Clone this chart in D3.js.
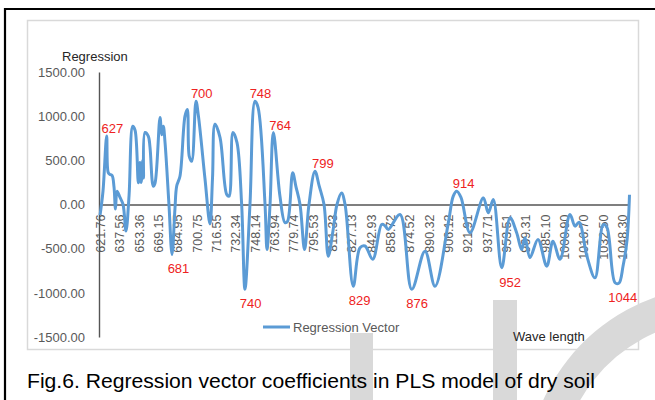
<!DOCTYPE html>
<html>
<head>
<meta charset="utf-8">
<script src="https://cdn.jsdelivr.net/npm/d3@7"></script>
<style>
  body { margin: 0; background: #fff; }
  svg { display: block; }
</style>
</head>
<body>
<svg id="drawing_region"></svg>
<script>
// wavelength (nm) of the points
const wavelengths = [
  621.8, 624.2, 627.2, 628.5, 629.9, 631.6, 633.2, 634.4, 635.7, 638.1,
  640.6, 643.0, 645.5, 648.5, 650.4, 653.1, 654.4, 655.4, 656.7, 657.3,
  658.5, 661.2, 662.6, 665.3, 666.7, 670.8, 672.2, 673.5, 674.9, 678.1,
  680.6, 683.0, 684.4, 687.1, 691.2, 693.1, 694.7, 696.7, 700.2, 702.2,
  707.6, 711.6, 713.7, 715.7, 719.8, 725.3, 727.2, 730.4, 733.7, 737.5,
  740.2, 744.3, 748.4, 750.9, 756.6, 758.2, 760.7, 763.4, 768.8, 772.9,
  775.0, 779.2, 781.9, 785.2, 788.9, 792.5, 797.4, 800.9, 804.8, 808.3,
  812.1, 815.4, 819.1, 822.0, 828.7, 834.2, 838.3, 844.6, 851.9, 854.6,
  857.3, 866.9, 876.5, 887.3, 895.5, 906.4, 910.4, 913.2, 916.7, 924.1,
  935.0, 939.0, 943.1, 950.0, 956.8, 962.2, 966.3, 969.0, 973.1, 979.6,
  986.8, 991.9, 997.6, 1005.8, 1009.9, 1013.2, 1019.7, 1026.2, 1033.0, 1036.0,
  1042.6, 1045.8, 1049.1, 1052.4, 1054.4
];
// regression vector coefficients at those wavelengths
const coefficients = [
  -120, 150, 775, 360, 340, 330, 200, -50, 150, 80,
  0, -300, 100, 885, 840, 245, 475, 250, 500, 300,
  815, 775, 650, 207, 240, 985, 790, 885, 700, 0,
  -565, -50, 207, 320, 1000, 1075, 546, 490, 1168, 1000,
  283, -220, 300, 910, 760, 113, 94, 815, 700, 0,
  -960, 0, 1168, 1100, 0, -510, 0, 815, 94, -205,
  -190, 360, 200, 0, -510, 0, 377, 207, 0, -585,
  -300, 0, 130, 0, -925, -490, -470, -620, -226, -240,
  -283, -113, -960, -528, -925, -205, 94, 150, 80, -320,
  75, -94, 57, -716, -150, -320, -510, -375, -600, -395,
  -698, -415, -620, -113, -245, -200, -590, -830, -226, -260,
  -886, -890, -700, -400, 110
];
const tickLabels = [
  "621.76", "637.56", "653.36", "669.15", "684.95", "700.75", "716.55",
  "732.34", "748.14", "763.94", "779.74", "795.53", "811.33", "827.13",
  "842.93", "858.72", "874.52", "890.32", "906.12", "921.91", "937.71",
  "953.51", "969.31", "985.10", "1000.90", "1016.70", "1032.50", "1048.30"
];
const yTicks = [-1500, -1000, -500, 0, 500, 1000, 1500];
const peakLabels = [627, 700, 748, 764, 799, 914];
const troughLabels = [681, 740, 829, 876, 952, 1044];

const data = wavelengths.map((w, i) => ({ wl: w, value: coefficients[i] }));
const font = 'Liberation Sans, Arial, sans-serif';

const svg = d3.select('#drawing_region')
    .attr('width', 655)
    .attr('height', 400);

svg.append('rect')
    .attr('width', 655).attr('height', 400)
    .attr('fill', '#fff');

// page frame
svg.append('path')
    .attr('d', 'M5,400 V9 H655')
    .attr('fill', 'none')
    .attr('stroke', '#000')
    .attr('stroke-width', 2.2);

// chart area
svg.append('rect')
    .attr('x', 27.5).attr('y', 20.5)
    .attr('width', 611).attr('height', 329)
    .attr('fill', '#fff')
    .attr('stroke', '#d9d9d9')
    .attr('stroke-width', 1.5);

// journal watermark (behind the chart content)
const mark = svg.append('g').attr('fill', '#d9d9d9');
mark.append('rect').attr('x', 350).attr('y', 333).attr('width', 23).attr('height', 67);
mark.append('rect').attr('x', 493).attr('y', 300).attr('width', 24).attr('height', 100);
mark.append('path')
    .attr('transform', 'translate(720,480)')
    .attr('d', d3.arc()
        .innerRadius(161).outerRadius(194)
        .startAngle(-1.5).endAngle(0.1)());

const x = d3.scaleLinear().domain([621.76, 1054.4]).range([100, 629.5]);
const y = d3.scaleLinear().domain([-1500, 1500]).range([337, 72]);

// category axis on the zero line
const xAxis = svg.append('g')
    .attr('transform', `translate(0,${y(0)})`)
    .call(d3.axisBottom(x)
        .tickValues(tickLabels.map(Number))
        .tickFormat((d, i) => tickLabels[i])
        .tickSize(0)
        .tickSizeOuter(0));
xAxis.select('.domain').attr('stroke', '#555').attr('stroke-width', 1.4);
xAxis.selectAll('text')
    .attr('transform', 'rotate(-90)')
    .attr('x', -10)
    .attr('y', 0)
    .attr('dy', '0.35em')
    .attr('text-anchor', 'end')
    .attr('fill', '#595959')
    .attr('font-family', font)
    .attr('font-size', '12.5px');

// value axis
const yAxis = svg.append('g')
    .attr('transform', `translate(${x(621.76) - 1},0)`)
    .call(d3.axisLeft(y)
        .tickValues(yTicks)
        .tickFormat(d => d.toFixed(2))
        .tickSize(0)
        .tickSizeOuter(0)
        .tickPadding(14));
yAxis.select('.domain').attr('stroke', '#555').attr('stroke-width', 1.4);
yAxis.selectAll('text')
    .attr('fill', '#595959')
    .attr('font-family', font)
    .attr('font-size', '13px');

// series
const line = d3.line()
    .x(d => x(d.wl))
    .y(d => y(d.value))
    .curve(d3.curveCatmullRom.alpha(0.5));

svg.append('path')
    .datum(data)
    .attr('d', line)
    .attr('fill', 'none')
    .attr('stroke', '#5b9bd5')
    .attr('stroke-width', 3)
    .attr('stroke-linejoin', 'round');

// red peak / trough annotations
const near = w => data.filter(d => Math.abs(d.wl - w) < 3.5).map(d => d.value);

svg.append('g').selectAll('text.peak')
    .data(peakLabels)
    .enter()
    .append('text')
    .attr('x', d => x(d) + 6)
    .attr('y', d => y(d3.max(near(d))) - 3)
    .attr('text-anchor', 'middle')
    .attr('fill', '#ee2222')
    .attr('font-family', font)
    .attr('font-size', '13px')
    .text(d => d);

svg.append('g').selectAll('text.trough')
    .data(troughLabels)
    .enter()
    .append('text')
    .attr('x', d => x(d) + 6)
    .attr('y', d => y(d3.min(near(d))) + 19)
    .attr('text-anchor', 'middle')
    .attr('fill', '#ee2222')
    .attr('font-family', font)
    .attr('font-size', '13px')
    .text(d => d);

// axis titles
svg.append('text')
    .attr('x', 62).attr('y', 61)
    .attr('fill', '#262626')
    .attr('font-family', font)
    .attr('font-size', '13px')
    .text('Regression');

svg.append('text')
    .attr('x', 513).attr('y', 341)
    .attr('fill', '#262626')
    .attr('font-family', font)
    .attr('font-size', '13px')
    .text('Wave length');

// legend
svg.append('line')
    .attr('x1', 263).attr('x2', 290)
    .attr('y1', 327).attr('y2', 327)
    .attr('stroke', '#5b9bd5')
    .attr('stroke-width', 3);
svg.append('text')
    .attr('x', 293).attr('y', 331.5)
    .attr('fill', '#595959')
    .attr('font-family', font)
    .attr('font-size', '13px')
    .text('Regression Vector');

// caption
svg.append('text')
    .attr('x', 27).attr('y', 388)
    .attr('fill', '#000')
    .attr('font-family', font)
    .attr('font-size', '19.5px')
    .attr('textLength', 568)
    .attr('lengthAdjust', 'spacingAndGlyphs')
    .text('Fig.6. Regression vector coefficients in PLS model of dry soil');
</script>
</body>
</html>
